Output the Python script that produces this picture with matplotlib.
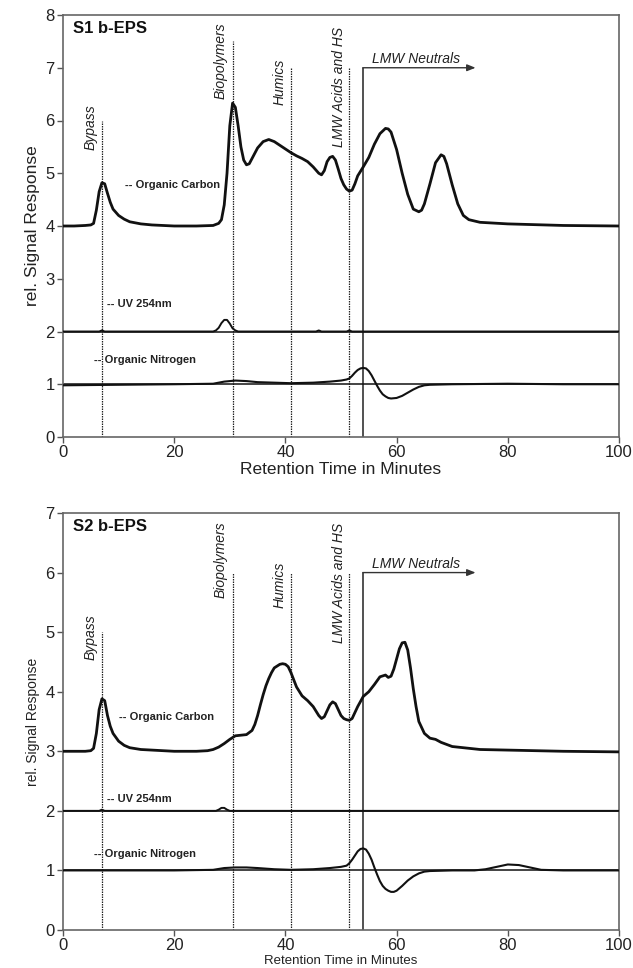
import matplotlib
matplotlib.use("Agg")
import matplotlib.pyplot as plt

plt.rcParams['font.family'] = ['Liberation Sans', 'DejaVu Sans']

# ---------------- data ----------------
s1_oc_t = [0,2,4,5,5.5,6,6.5,7,7.5,8,8.5,9,10,11,12,14,16,20,24,27,28,28.5,29,29.5,30,30.5,31,31.5,32,32.5,33,33.5,34,35,36,37,38,39,40,41,42,43,44,45,46,46.5,47,47.5,48,48.5,49,49.5,50,50.5,51,51.5,52,52.5,53,54,55,56,57,58,58.5,59,60,61,62,63,64,64.5,65,66,67,68,68.5,69,70,71,72,73,75,80,90,100]
s1_oc_v = [4.0,4.0,4.01,4.02,4.05,4.3,4.65,4.82,4.8,4.62,4.45,4.32,4.2,4.13,4.08,4.04,4.02,4.0,4.0,4.01,4.05,4.12,4.4,5.0,5.9,6.33,6.25,5.9,5.5,5.25,5.16,5.18,5.28,5.48,5.6,5.64,5.6,5.53,5.46,5.39,5.33,5.28,5.22,5.12,5.0,4.97,5.05,5.22,5.3,5.32,5.25,5.08,4.9,4.78,4.7,4.66,4.68,4.8,4.95,5.12,5.3,5.55,5.75,5.85,5.84,5.78,5.45,5.0,4.6,4.32,4.27,4.3,4.42,4.8,5.2,5.35,5.32,5.18,4.78,4.42,4.2,4.12,4.07,4.04,4.01,4.0]

s1_uv_t = [0,6.5,7,7.5,27,27.5,28,28.5,29,29.5,30,30.5,31,31.5,32,45.5,46,46.5,51,51.5,52,100]
s1_uv_v = [2.0,2.0,2.02,2.0,2.0,2.02,2.07,2.16,2.22,2.22,2.15,2.06,2.02,2.0,2.0,2.0,2.02,2.0,2.0,2.02,2.0,2.0]

s1_on_t = [0,10,20,27,29,31,33,35,38,41,45,48,50,51,51.5,52,52.5,53,53.5,54,54.5,55,55.5,56,56.5,57,57.5,58,58.5,59,60,61,62,63,64,65,66,70,80,90,100]
s1_on_v = [0.98,0.99,1.0,1.01,1.05,1.07,1.06,1.04,1.03,1.02,1.03,1.05,1.07,1.09,1.11,1.16,1.22,1.27,1.3,1.31,1.3,1.25,1.17,1.07,0.97,0.88,0.81,0.77,0.74,0.73,0.74,0.78,0.84,0.9,0.95,0.98,0.99,1.0,1.01,1.0,1.0]

s2_oc_t = [0,2,4,5,5.5,6,6.5,7,7.5,8,8.5,9,10,11,12,14,16,20,24,26,27,28,29,30,31,32,33,34,34.5,35,35.5,36,36.5,37,37.5,38,39,39.5,40,40.5,41,41.5,42,43,44,45,46,46.5,47,47.5,48,48.5,49,49.5,50,50.5,51,51.5,52,52.5,53,54,55,56,57,58,58.5,59,59.5,60,60.5,61,61.5,62,62.5,63,63.5,64,64.5,65,66,67,68,70,75,80,90,100]
s2_oc_v = [3.0,3.0,3.0,3.01,3.05,3.3,3.7,3.88,3.85,3.6,3.42,3.3,3.17,3.1,3.06,3.03,3.02,3.0,3.0,3.01,3.03,3.07,3.13,3.2,3.26,3.27,3.28,3.35,3.45,3.6,3.78,3.95,4.1,4.22,4.32,4.4,4.46,4.47,4.46,4.42,4.32,4.2,4.08,3.93,3.85,3.75,3.6,3.55,3.58,3.68,3.78,3.83,3.8,3.7,3.6,3.55,3.53,3.52,3.55,3.65,3.75,3.92,4.0,4.12,4.25,4.28,4.24,4.26,4.38,4.55,4.72,4.82,4.83,4.7,4.4,4.05,3.75,3.5,3.4,3.3,3.22,3.2,3.15,3.08,3.03,3.02,3.0,2.99]

s2_uv_t = [0,6.5,7,7.5,27.5,28,28.5,29,29.5,30,100]
s2_uv_v = [2.0,2.0,2.02,2.0,2.0,2.02,2.05,2.05,2.02,2.0,2.0]

s2_on_t = [0,10,20,27,29,31,33,35,38,41,45,48,50,51,51.5,52,52.5,53,53.5,54,54.5,55,55.5,56,56.5,57,57.5,58,58.5,59,59.5,60,61,62,63,64,65,66,70,74,76,78,80,82,84,86,90,100]
s2_on_v = [1.0,1.0,1.0,1.01,1.04,1.05,1.05,1.04,1.02,1.01,1.02,1.04,1.06,1.08,1.12,1.18,1.25,1.32,1.36,1.37,1.35,1.28,1.18,1.05,0.93,0.82,0.74,0.69,0.66,0.64,0.64,0.66,0.74,0.83,0.9,0.95,0.98,0.99,1.0,1.0,1.02,1.06,1.1,1.09,1.05,1.01,1.0,1.0]

fraction_names = ["Bypass", "Biopolymers", "Humics", "LMW Acids and HS"]
fraction_x = [7, 30.5, 41, 51.5]
neutrals_x = 54
s1_line_tops = [6.0, 7.5, 7.0, 7.0]
s2_line_tops = [5.0, 6.0, 6.0, 6.0]
s1_neutral_top = 7.0
s2_neutral_top = 6.0

# ---------------- figure ----------------
fig = plt.figure(figsize=(6.33, 9.68), dpi=100)
ax1 = fig.add_axes([63/633, 1-437/968, 556/633, 422/968])
ax2 = fig.add_axes([63/633, 1-930/968, 556/633, 417/968])

ink = '#111111'

def draw_panel(ax, oc_t, oc_v, uv_t, uv_v, on_t, on_v, tops, ntop, ymax,
               title, lab_pos, name_y, fs_axis, fs_tick, narrow):
    ax.set_xlim(0, 100)
    ax.set_ylim(0, ymax)
    # reference baselines
    ax.axhline(1, color=ink, lw=1.1, zorder=2)
    ax.axhline(2, color=ink, lw=1.1, zorder=2)
    # fraction lines
    for x, top in zip(fraction_x, tops):
        ax.vlines(x, 0, top, colors='#222222', linestyles=(0, (1.2, 0.8)), lw=0.9, zorder=1)
    ax.vlines(neutrals_x, 0, ntop, colors='#222222', lw=1.1, zorder=1)
    ax.annotate('', xy=(74.2, ntop), xytext=(neutrals_x - 0.1, ntop),
                arrowprops=dict(arrowstyle='-|>,head_length=0.5,head_width=0.2',
                                color='#333333', lw=1.0, shrinkA=0, shrinkB=0))
    ax.text(55.6, ntop + 0.03, "LMW Neutrals", fontsize=10, style='italic',
            ha='left', va='bottom', color='#222222')
    # fraction names
    text_x = [4.9, 28.4, 38.9, 49.7]
    for nm, x, yb in zip(fraction_names, text_x, name_y):
        ax.text(x, yb, nm, rotation=90, fontsize=10, style='italic',
                ha='center', va='bottom', color='#222222')
    # traces
    ax.plot(oc_t, oc_v, color=ink, lw=2.0, zorder=3)
    ax.plot(uv_t, uv_v, color=ink, lw=1.4, zorder=3)
    ax.plot(on_t, on_v, color=ink, lw=1.5, zorder=3)
    # trace labels
    for txt, (x, y) in zip(["-- Organic Carbon", "-- UV 254nm", "-- Organic Nitrogen"], lab_pos):
        ax.text(x, y, txt, fontsize=8, fontweight='bold', ha='left', va='center',
                color='#222222')
    ax.text(1.8, ymax - 0.25 * ymax / 8, title, fontsize=12, fontweight='bold',
            ha='left', va='center', color='#111111')
    ax.set_xticks([0, 20, 40, 60, 80, 100])
    ax.set_yticks(range(0, int(ymax) + 1))
    ax.tick_params(direction='out', length=4, width=1, color='#555555',
                   labelsize=fs_tick, labelcolor='#222222', pad=2)
    for s in ax.spines.values():
        s.set_color('#666666')
        s.set_linewidth(1.2)
    ax.set_ylabel("rel. Signal Response", fontsize=fs_axis, color='#222222', labelpad=4)
    ax.set_xlabel("Retention Time in Minutes", fontsize=fs_axis - (0 if not narrow else 0.5),
                  color='#222222', labelpad=1)

draw_panel(ax1, s1_oc_t, s1_oc_v, s1_uv_t, s1_uv_v, s1_on_t, s1_on_v,
           s1_line_tops, s1_neutral_top, 8, "S1 b-EPS",
           [(11.2, 4.78), (7.9, 2.52), (5.6, 1.46)],
           [5.45, 6.4, 6.3, 5.5], 12.5, 12, False)
draw_panel(ax2, s2_oc_t, s2_oc_v, s2_uv_t, s2_uv_v, s2_on_t, s2_on_v,
           s2_line_tops, s2_neutral_top, 7, "S2 b-EPS",
           [(10.0, 3.57), (7.9, 2.2), (5.6, 1.27)],
           [4.53, 5.57, 5.4, 4.81], 10, 12, True)

fig.savefig("out.png", dpi=100, facecolor='white')
